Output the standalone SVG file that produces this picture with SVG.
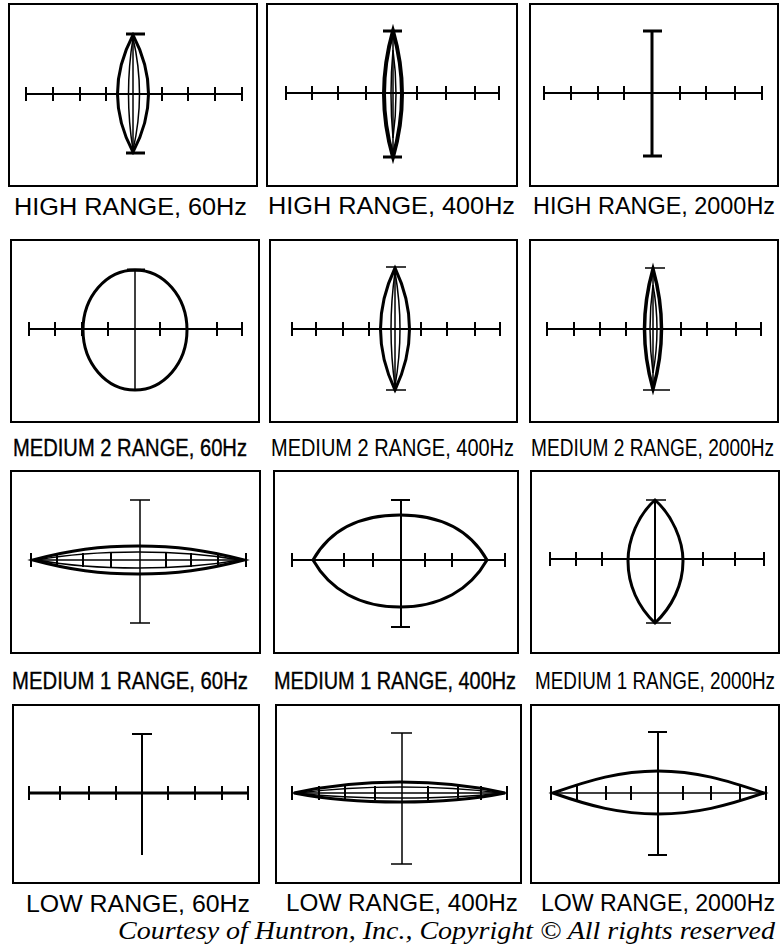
<svg xmlns="http://www.w3.org/2000/svg" width="783" height="951" viewBox="0 0 783 951">
<style>
.box{fill:none;stroke:#000;stroke-width:2}
.ax{fill:none;stroke:#000;stroke-width:2}
.tk{fill:none;stroke:#000;stroke-width:2}
.tr{fill:none;stroke:#000;stroke-width:3}
.th{fill:none;stroke:#000;stroke-width:1.5}
.lbl{font-family:"Liberation Sans",Arial,sans-serif;font-size:24.5px;fill:#000}
.nar{font-family:"Liberation Sans Narrow","Liberation Sans",Arial,sans-serif;font-size:23.5px;fill:#000}
.bold{stroke:#000;stroke-width:0.35}
.cr{font-family:"Liberation Serif","Times New Roman",serif;font-style:italic;font-size:25px;fill:#000}
.end{text-anchor:end}
</style>
<rect width="783" height="951" fill="#fff"/>

<g id="p-high-60">
<rect class="box" x="9" y="4" width="248" height="182"/>
<path class="ax" d="M26,94H242"/>
<path class="tk" d="M26,87v14M53,87v14M80,87v14M106,87v14M162,87v14M188,87v14M215,87v14M242,87v14"/>
<path class="th" d="M133,33V154"/>
<path class="tr" d="M126,34H145M126,153H145"/>
<path class="tr" d="M133,35Q164,94 133,152Q102,94 133,35Z"/>
<path class="th" d="M133,38Q146,94 133,150Q124,94 133,38Z"/>
<text class="lbl" x="14" y="215" textLength="233" lengthAdjust="spacingAndGlyphs">HIGH RANGE, 60Hz</text>
</g>

<g id="p-high-400">
<rect class="box" x="267" y="4" width="250" height="182"/>
<path class="ax" d="M286,93H499"/>
<path class="tk" d="M286,86v14M312,86v14M338,86v14M366,86v14M417,86v14M446,86v14M475,86v14M499,86v14"/>
<path class="tr" d="M383,31H402M383,157H402"/>
<path d="M393,31Q411,94 393,157Q375,94 393,31Z" fill="none" stroke="#000" stroke-width="4"/>
<path class="th" d="M393,31V157"/>
<path d="M393,50Q399,94 393,138Q389,94 393,50Z" fill="none" stroke="#000" stroke-width="1.5"/>
<text class="lbl" x="268" y="214" textLength="247" lengthAdjust="spacingAndGlyphs">HIGH RANGE, 400Hz</text>
</g>

<g id="p-high-2000">
<rect class="box" x="530" y="4" width="248" height="182"/>
<path class="ax" d="M544,93H762"/>
<path class="tk" d="M544,86v14M571,86v14M598,86v14M624,86v14M680,86v14M706,86v14M735,86v14M762,86v14"/>
<path class="tr" d="M652,31V156M643,31H662M643,156H662"/>
<text class="lbl end" x="775" y="214" textLength="242" lengthAdjust="spacingAndGlyphs">HIGH RANGE, 2000Hz</text>
</g>

<g id="p-med2-60">
<rect class="box" x="11" y="240" width="248" height="182"/>
<path class="ax" d="M29,329H242"/>
<path class="tk" d="M29,322v14M55,322v14M82,322v14M108,322v14M160,322v14M187,322v14M217,322v14M242,322v14"/>
<path class="th" d="M135,270V390"/>
<ellipse class="tr" cx="135" cy="330" rx="52" ry="60"/>
<path class="tr" d="M127,270H145"/>
<text class="nar bold" x="13" y="456" textLength="234" lengthAdjust="spacingAndGlyphs">MEDIUM 2 RANGE, 60Hz</text>
</g>

<g id="p-med2-400">
<rect class="box" x="270" y="240" width="247" height="182"/>
<path class="ax" d="M292,329H500"/>
<path class="tk" d="M292,322v14M316,322v14M343,322v14M369,322v14M421,322v14M447,322v14M475,322v14M500,322v14"/>
<path class="th" d="M386,267H406M386,390H406"/>
<path class="th" d="M395,267V390"/>
<path class="tr" d="M395,268Q424,329 395,390Q366,329 395,268Z"/>
<path class="th" d="M395,272Q405,329 395,386Q387,329 395,272Z"/>
<text class="nar" x="271" y="456" textLength="243" lengthAdjust="spacingAndGlyphs">MEDIUM 2 RANGE, 400Hz</text>
</g>

<g id="p-med2-2000">
<rect class="box" x="530" y="240" width="248" height="182"/>
<path class="ax" d="M547,329H761"/>
<path class="tk" d="M547,322v14M574,322v14M600,322v14M626,322v14M681,322v14M707,322v14M736,322v14M761,322v14"/>
<path class="th" d="M645,268H665M643,390H670"/>
<path class="th" d="M653,268V390"/>
<path d="M653,269Q670,329 653,389Q636,329 653,269Z" fill="none" stroke="#000" stroke-width="3.5"/>
<path class="th" d="M653,285Q661,329 653,373Q647,329 653,285Z"/>
<text class="nar end" x="774" y="456" textLength="243" lengthAdjust="spacingAndGlyphs">MEDIUM 2 RANGE, 2000Hz</text>
</g>

<g id="p-med1-60">
<rect class="box" x="11" y="471" width="249" height="182"/>
<path class="th" d="M31,560H246"/>
<path class="tk" d="M31,553v14M246,553v14M57,553v14M83,553v14M111,553v14M166,553v14M191,553v14M218,553v14"/>
<path class="th" d="M140,500V623"/>
<path class="th" d="M130,500H150M130,623H150"/>
<path class="tr" d="M33,560C70,550 100,546 138,546C176,546 206,550 244,560C206,570 176,574 138,574C100,574 70,570 33,560Z"/>
<path class="th" d="M37,560C70,554 100,552 138,552C176,552 206,554 240,560C206,566 176,568 138,568C100,568 70,566 37,560Z"/>
<text class="nar bold" x="12" y="689" textLength="236" lengthAdjust="spacingAndGlyphs">MEDIUM 1 RANGE, 60Hz</text>
</g>

<g id="p-med1-400">
<rect class="box" x="274" y="471" width="244" height="182"/>
<path class="ax" d="M292,560H505"/>
<path class="tk" d="M292,553v14M344,553v14M373,553v14M425,553v14M452,553v14M505,553v14"/>
<path class="ax" d="M401,500V627M391,500H410M391,627H410"/>
<path class="tr" d="M313,560C330,530 360,515 400,515C440,515 470,530 487,560C470,590 440,607 400,607C360,607 330,590 313,560Z"/>
<text class="nar bold" x="274" y="689" textLength="242" lengthAdjust="spacingAndGlyphs">MEDIUM 1 RANGE, 400Hz</text>
</g>

<g id="p-med1-2000">
<rect class="box" x="531" y="471" width="248" height="182"/>
<path class="ax" d="M550,559H764"/>
<path class="tk" d="M550,552v14M576,552v14M602,552v14M703,552v14M735,552v14M764,552v14"/>
<path class="ax" d="M655,500V623"/>
<path class="th" d="M646,500H666M646,623H671"/>
<path class="tr" d="M655,500C672,515 683,540 683,561C683,585 672,607 655,623C638,607 628,585 628,561C628,540 638,515 655,500Z"/>
<text class="nar end" x="775" y="689" textLength="240" lengthAdjust="spacingAndGlyphs">MEDIUM 1 RANGE, 2000Hz</text>
</g>

<g id="p-low-60">
<rect class="box" x="13" y="705" width="246" height="178"/>
<path class="tr" d="M29,793H248"/>
<path class="tk" d="M29,786v14M60,786v14M89,786v14M116,786v14M168,786v14M195,786v14M222,786v14M248,786v14"/>
<path class="ax" d="M142,733V855M132,734H152"/>
<text class="lbl" x="26" y="912" textLength="224" lengthAdjust="spacingAndGlyphs">LOW RANGE, 60Hz</text>
</g>

<g id="p-low-400">
<rect class="box" x="276" y="705" width="245" height="178"/>
<path class="th" d="M292,793H507"/>
<path class="tk" d="M292,786v14M507,786v14M319,786v14M345,786v14M375,786v14M428,786v14M458,786v14M481,786v14"/>
<path class="th" d="M402,733V864M391,733H412M391,864H412"/>
<path class="tr" d="M294,793C330,785 360,782 400,782C440,782 470,785 505,793C470,800 440,802 400,802C360,802 330,800 294,793Z"/>
<path class="th" d="M298,793C330,789 360,787 400,787C440,787 470,789 501,793C470,797 440,798 400,798C360,798 330,797 298,793Z"/>
<text class="lbl" x="286" y="911" textLength="232" lengthAdjust="spacingAndGlyphs">LOW RANGE, 400Hz</text>
</g>

<g id="p-low-2000">
<rect class="box" x="531" y="705" width="248" height="178"/>
<path class="th" d="M551,793H766"/>
<path class="tk" d="M551,786v14M766,786v14M577,786v14M606,786v14M631,786v14M683,786v14M711,786v14M740,786v14"/>
<path class="ax" d="M658,732V855M648,732H667M648,855H667"/>
<path class="tr" d="M553,793C590,780 620,771 658,771C696,771 726,780 764,793C726,806 696,814 658,814C620,814 590,806 553,793Z"/>
<text class="lbl end" x="775" y="911" textLength="234" lengthAdjust="spacingAndGlyphs">LOW RANGE, 2000Hz</text>
</g>

<text class="cr end" x="775" y="939" textLength="657" lengthAdjust="spacingAndGlyphs">Courtesy of Huntron, Inc., Copyright © All rights reserved</text>
</svg>
